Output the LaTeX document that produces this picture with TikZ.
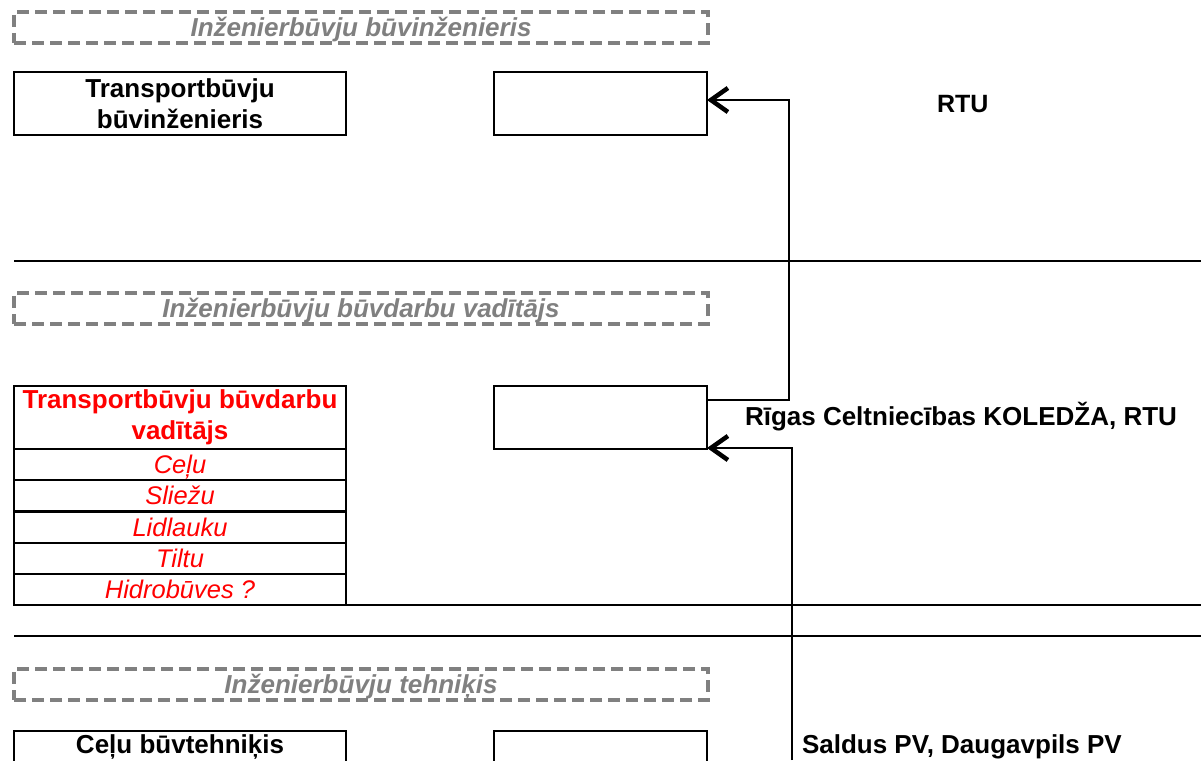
\documentclass[tikz,border=0pt]{standalone}
\usepackage{fontspec}
\setmainfont{Liberation Sans}
\usetikzlibrary{arrows.meta}
\definecolor{dgrey}{HTML}{808080}
\definecolor{tred}{HTML}{FF0000}
\tikzset{
  every node/.style={inner sep=0pt, outer sep=0pt},
  dbox/.style={draw=dgrey, line width=3.2pt, dash pattern=on 12pt off 6pt, minimum width=694pt, minimum height=31pt, anchor=north west,
    text=dgrey, text height=18pt, text depth=0pt, font=\fontsize{26}{31}\selectfont\bfseries\itshape},
  sbox/.style={draw, line width=2pt, minimum width=332pt, minimum height=63pt, anchor=north west, align=center,
    font=\fontsize{26}{31}\selectfont\bfseries},
  ebox/.style={draw, line width=2pt, minimum width=213pt, minimum height=63pt, anchor=north west},
  rowbox/.style={draw, line width=2pt, minimum width=332pt, minimum height=31pt, anchor=north west, text=tred,
    text height=18pt, text depth=1pt, font=\fontsize{25.5}{30}\selectfont\itshape},
  lbl/.style={font=\fontsize{26}{31}\selectfont\bfseries, anchor=west},
  sep/.style={line width=2pt},
  conn/.style={line width=2pt},
  tip/.style={-{Straight Barb[length=17pt,width=24pt,line width=4.5pt]}}
}
\begin{document}
\begin{tikzpicture}[x=1pt,y=-1pt]
\useasboundingbox (0,0) rectangle (1201,760);
% level 1
\node[dbox] (d1) at (14,12) {Inženierbūvju būvinženieris};
\node[sbox] (s1) at (14,72) {Transportbūvju\\būvinženieris};
\node[ebox] (b1) at (494,72) {};
\node[lbl, font=\fontsize{25}{30}\selectfont\bfseries] (l1) at (937,104) {RTU};
\draw[sep] (14,261) coordinate (h1a) -- (1201,261) coordinate (h1b);
% level 2
\node[dbox] (d2) at (14,293) {Inženierbūvju būvdarbu vadītājs};
\node[sbox, text=tred] (s2) at (14,386) {Transportbūvju būvdarbu\\vadītājs};
\node[rowbox] (r1) at (14,449) {Ceļu};
\node[rowbox] (r2) at (14,480) {Sliežu};
\node[rowbox] (r3) at (14,512) {Lidlauku};
\node[rowbox] (r4) at (14,543) {Tiltu};
\node[rowbox] (r5) at (14,574) {Hidrobūves ?};
\node[ebox] (b2) at (494,386) {};
\node[lbl] (l2) at (745,417) {Rīgas Celtniecības KOLEDŽA, RTU};
\draw[sep] (r5.south east) -- (1201,605) coordinate (h2b);
\draw[sep] (14,636) coordinate (h3a) -- (1201,636) coordinate (h3b);
% level 3
\node[dbox] (d3) at (14,669) {Inženierbūvju tehniķis};
\node[sbox, minimum height=40pt] (s3) at (14,731) {};
\node[font=\fontsize{26}{31}\selectfont\bfseries] (t3) at (180,747) {Ceļu būvtehniķis};
\node[ebox, minimum height=40pt] (b3) at (494,731) {};
\node[lbl] (l3) at (802,747) {Saldus PV, Daugavpils PV};
% connectors
\coordinate (j1) at (789,400);
\draw[conn, tip] ([yshift=-14pt]b2.north east) -- (j1) |- ([yshift=3.5pt]b1.east);
\coordinate (bot) at (792,760);
\draw[conn, tip] (bot) |- ([yshift=1pt]b2.south east);
\end{tikzpicture}
\end{document}
